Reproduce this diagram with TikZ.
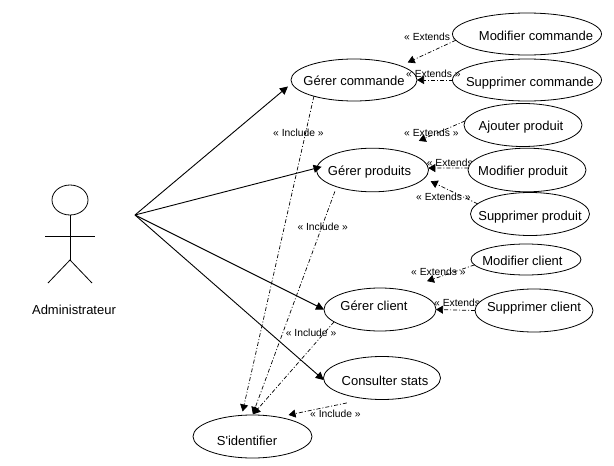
\documentclass[tikz,border=0pt]{standalone}
\usepackage{fontspec}
\setmainfont{Liberation Sans}
\newfontfamily\plainface{Liberation Sans}
\usetikzlibrary{shapes.geometric,arrows.meta,backgrounds}
\newcommand{\tx}[3]{\smash{\raisebox{#2pt}{\makebox[0pt]{\hspace*{#1pt}\hspace*{#1pt}#3}}}}
\tikzset{
  uc/.style={ellipse,draw=black,fill=white,line width=0.8pt,inner sep=0pt,outer sep=0pt,font=\fontsize{13}{15}\selectfont},
  lbl/.style={anchor=base west,inner sep=0pt,font=\fontsize{10.3}{12}\selectfont},
  assoc/.style={line width=0.9pt,-{Triangle[length=8pt,width=8pt]}},
  dep/.style={line width=0.7pt,dash pattern=on 4pt off 2pt on 1pt off 2pt,-{Triangle[length=7pt,width=8pt]}},
  limb/.style={line width=0.8pt}
}
\begin{document}
\begin{tikzpicture}[x=1pt,y=-1pt]
\useasboundingbox (0,0) rectangle (614,466);
% use cases
\node[uc,minimum width=126pt,minimum height=42pt] (gc) at (354,80) {\tx{0}{-5}{Gérer commande}};
\node[uc,minimum width=149pt,minimum height=42pt] (mc) at (527,34) {\tx{9}{-6.5}{Modifier commande}};
\node[uc,minimum width=149pt,minimum height=42pt] (sc) at (527,80) {\tx{3}{-6}{Supprimer commande}};
\node[uc,minimum width=118pt,minimum height=43pt] (ap) at (523,125) {\tx{-2}{-5}{Ajouter produit}};
\node[uc,minimum width=112pt,minimum height=43.6pt] (gp) at (372.5,170) {\tx{-3}{-5}{Gérer produits}};
\node[uc,minimum width=118pt,minimum height=43.6pt] (mp) at (527,170) {\tx{-4}{-5}{Modifier produit}};
\node[uc,minimum width=119pt,minimum height=43pt] (sp) at (530,214) {\tx{0}{-6}{Supprimer produit}};
\node[uc,minimum width=110pt,minimum height=31pt] (mk) at (526,259.5) {\tx{-3.5}{-5.5}{Modifier client}};
\node[uc,minimum width=118pt,minimum height=43pt] (sk) at (534,310.5) {\tx{0}{-0.5}{Supprimer client}};
\node[uc,minimum width=112pt,minimum height=43pt] (gk) at (380,309.5) {\tx{-6}{-0.5}{Gérer client}};
\node[uc,minimum width=117pt,minimum height=43pt] (cs) at (382,378) {\tx{3}{-7}{Consulter stats}};
\node[uc,minimum width=119pt,minimum height=43pt] (id) at (252.5,436.5) {\tx{-5.5}{-9}{S{\plainface '}identifier}};
% actor
\node[ellipse,draw=black,line width=0.8pt,inner sep=0pt,outer sep=0pt,minimum width=36pt,minimum height=30pt] (head) at (70,200) {};
\coordinate (hip) at (70,260);
\coordinate (armL) at (45,236.7);
\coordinate (armR) at (95,236.7);
\coordinate (legL) at (48,283);
\coordinate (legR) at (92,283);
\coordinate (src) at (135,215);
\draw[limb] (head.south) -- (hip);
\draw[limb] (armL) -- (armR);
\draw[limb] (legL) -- (hip) -- (legR);
\node[anchor=base,inner sep=0pt,font=\fontsize{13}{15}\selectfont] (actor) at (74,314) {Administrateur};
% associations
\draw[assoc,shorten >=5pt] (src) -- (gc.183);
\draw[assoc,shorten >=-5pt] (src) -- (gp.178);
\draw[assoc] (src) -- (gk.west);
\draw[assoc] (src) -- (cs.182);
% extends
\draw[dep,shorten >=8pt] (mc.185) -- (gc.17);
\draw[dep] (sc.west) -- (gc.east);
\draw[dep,shorten >=24pt] (ap.176) -- (gp.39);
\draw[dep] (mp.178) -- (gp.2);
\draw[dep,shorten >=7pt] (sp.169) -- (gp.351);
\draw[dep,shorten >=26.5pt] (mk.186) -- (gk.42);
\draw[dep] (sk.west) -- (gk.east);
% includes
\draw[dep,shorten >=4pt] (gc.202) -- (id.117);
\draw[dep,shorten <=5pt,shorten >=1pt] (gp.205) -- (id.north);
\draw[dep,shorten >=1pt] (gk.195) -- (id.north);
\draw[dep,shorten <=20.5pt,shorten >=10.5pt] (cs.234) -- (id.37);
% labels partly covered by the ellipses
\begin{pgfonlayer}{background}
\node[lbl] (e1) at (404,40.7) {« Extends »};
\node[lbl] (e4) at (426.7,166) {« Extends »};
\node[lbl] (e7) at (434,306) {« Extends »};
\end{pgfonlayer}
% labels
\node[lbl] (e2) at (406,77.7) {« Extends »};
\node[lbl] (e3) at (404,136) {« Extends »};
\node[lbl] (e5) at (416,200) {« Extends »};
\node[lbl] (e6) at (411,275.7) {« Extends »};
\node[lbl] (i1) at (273,136) {« Include »};
\node[lbl] (i2) at (297.3,230) {« Include »};
\node[lbl] (i3) at (285.7,336) {« Include »};
\node[lbl] (i4) at (310,417.7) {« Include »};
\end{tikzpicture}
\end{document}
